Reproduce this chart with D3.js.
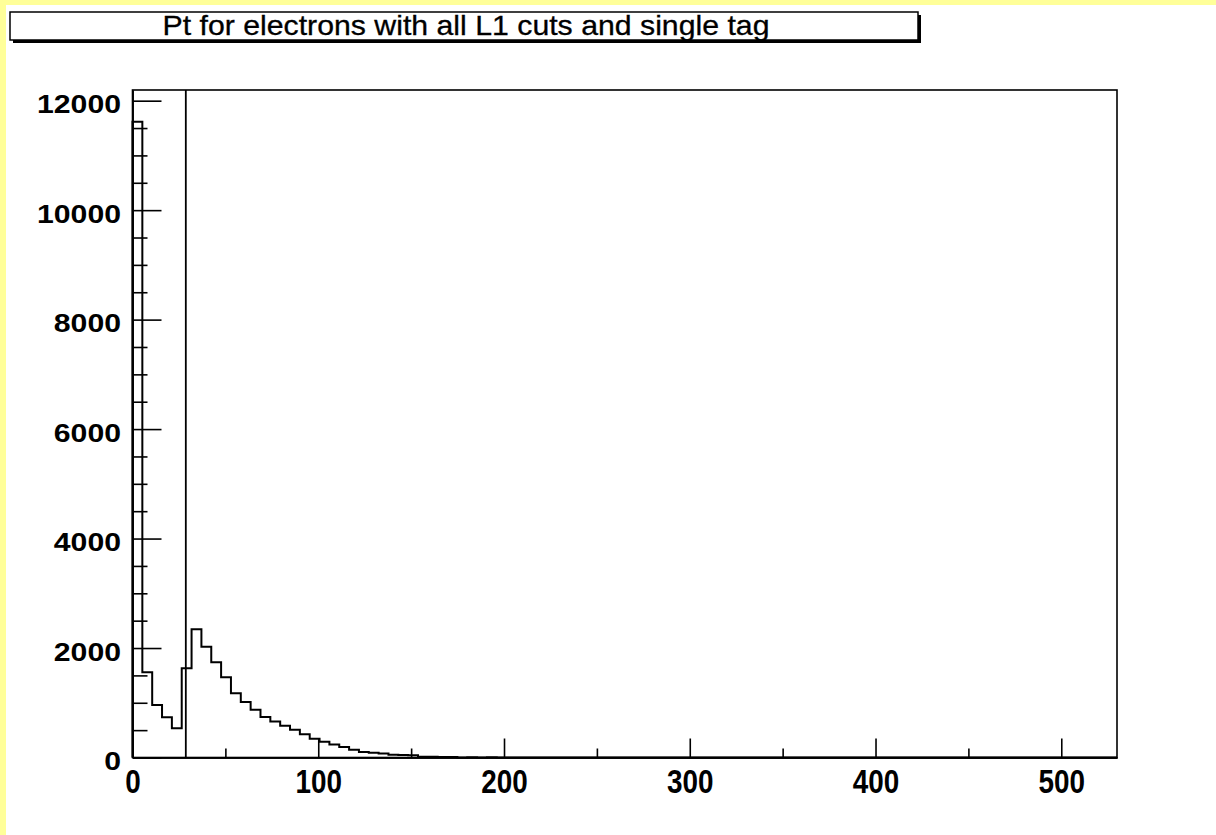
<!DOCTYPE html>
<html>
<head>
<meta charset="utf-8">
<script src="https://cdn.jsdelivr.net/npm/d3@7"></script>
<style>
  body { margin: 0; background: #ffffff; }
  svg { display: block; }
</style>
</head>
<body>
<svg id="chart" width="1216" height="835"></svg>
<script>
// Histogram: electron Pt, 100 bins over [0, 530]
const title = "Pt for electrons with all L1 cuts and single tag";
const xRange = [0, 530];
const binWidth = 5.3;
const counts = [
  11615, 1557, 959, 735, 534, 1630, 2343, 2025, 1740, 1466,
  1173, 1015, 872, 738, 660, 579, 506, 427, 342, 287,
  238, 190, 141, 99, 86, 75, 48, 45, 40, 15,
  12, 10, 8, 0, 6, 0, 5, 0, 0, 0,
  0, 0, 0, 0, 0, 0, 0, 0, 0, 0,
  0, 0, 0, 0, 0, 0, 0, 0, 0, 0,
  0, 0, 0, 0, 0, 0, 0, 0, 0, 0,
  0, 0, 0, 0, 0, 0, 0, 0, 0, 0,
  0, 0, 0, 0, 0, 0, 0, 0, 0, 0,
  0, 0, 0, 0, 0, 0, 0, 0, 0, 0
];
const cutValue = 28.7;
const yMax = 12195;

const xMajorTicks = [0, 100, 200, 300, 400, 500];
const xMinorTicks = [50, 150, 250, 350, 450];
const yMajorTicks = [0, 2000, 4000, 6000, 8000, 10000, 12000];
const yMinorTicks = [500, 1000, 1500, 2500, 3000, 3500, 4500, 5000, 5500,
                     6500, 7000, 7500, 8500, 9000, 9500, 10500, 11000, 11500];

// Frame geometry
const frame = { left: 132.5, right: 1117, top: 90, bottom: 757.5 };

const svg = d3.select("#chart");

// page background with the pale yellow edge strips
svg.append("rect").attr("x", 0).attr("y", 0).attr("width", 1216).attr("height", 835).attr("fill", "#ffffff");
svg.append("rect").attr("x", 0).attr("y", 0).attr("width", 1216).attr("height", 5).attr("fill", "#ffff99");
svg.append("rect").attr("x", 0).attr("y", 0).attr("width", 6).attr("height", 835).attr("fill", "#ffff99");

const x = d3.scaleLinear().domain(xRange).range([frame.left, frame.right]);
const y = d3.scaleLinear().domain([0, yMax]).range([frame.bottom, frame.top]);

// Title box with drop shadow
const tb = { x: 10, y: 12, w: 908, h: 28 };
svg.append("rect").attr("x", tb.x + 3).attr("y", tb.y + 3).attr("width", tb.w).attr("height", tb.h).attr("fill", "#000");
svg.append("rect").attr("x", tb.x).attr("y", tb.y).attr("width", tb.w).attr("height", tb.h)
  .attr("fill", "#fff").attr("stroke", "#000").attr("stroke-width", 1.5);
svg.append("text")
  .attr("x", 466).attr("y", 35)
  .attr("text-anchor", "middle")
  .attr("font-family", "'Liberation Sans Narrow', 'Liberation Sans', Arial, sans-serif")
  .attr("font-size", 28)
  .attr("textLength", 607)
  .attr("lengthAdjust", "spacingAndGlyphs")
  .attr("fill", "#000")
  .attr("stroke", "#000").attr("stroke-width", 0.3)
  .text(title);

// Plot frame
svg.append("rect")
  .attr("x", frame.left).attr("y", frame.top)
  .attr("width", frame.right - frame.left).attr("height", frame.bottom - frame.top)
  .attr("fill", "none").attr("stroke", "#000").attr("stroke-width", 1.6);

// X axis: major ticks with labels, minor ticks without
const gxMajor = svg.append("g").attr("transform", `translate(0,${frame.bottom})`)
  .call(d3.axisBottom(x).tickValues(xMajorTicks).tickSizeInner(-19).tickSizeOuter(0).tickFormat(d3.format("d")));
const gxMinor = svg.append("g").attr("transform", `translate(0,${frame.bottom})`)
  .call(d3.axisBottom(x).tickValues(xMinorTicks).tickSizeInner(-9).tickSizeOuter(0).tickFormat(""));

gxMajor.selectAll("text")
  .attr("y", 35).attr("dy", 0)
  .attr("font-family", "'Liberation Sans Narrow', 'Liberation Sans', Arial, sans-serif")
  .attr("font-weight", "bold")
  .attr("font-size", 34)
  .attr("textLength", d => String(d).length * 15.5)
  .attr("lengthAdjust", "spacingAndGlyphs")
  .attr("fill", "#000");

// Y axis
const gyMajor = svg.append("g").attr("transform", `translate(${frame.left},0)`)
  .call(d3.axisLeft(y).tickValues(yMajorTicks).tickSizeInner(-29).tickSizeOuter(0).tickFormat(d3.format("d")));
const gyMinor = svg.append("g").attr("transform", `translate(${frame.left},0)`)
  .call(d3.axisLeft(y).tickValues(yMinorTicks).tickSizeInner(-15).tickSizeOuter(0).tickFormat(""));

gyMajor.selectAll("text")
  .attr("x", -11.5).attr("dy", 0).attr("y", 12)
  .attr("text-anchor", "end")
  .attr("font-family", "'Liberation Sans', Arial, sans-serif")
  .attr("font-weight", "bold")
  .attr("font-size", 25)
  .attr("textLength", d => String(d).length * 16.8)
  .attr("lengthAdjust", "spacingAndGlyphs")
  .attr("fill", "#000");

svg.selectAll(".domain").attr("stroke", "#000").attr("stroke-width", 1.6);
svg.selectAll(".tick line").attr("stroke", "#000").attr("stroke-width", 1.6);

// Histogram outline as a step line
const pts = [[xRange[0], 0]]
  .concat(counts.map((c, i) => [i * binWidth, c]))
  .concat([[xRange[1], counts[counts.length - 1]], [xRange[1], 0]]);
const step = d3.line().x(d => x(d[0])).y(d => y(d[1])).curve(d3.curveStepAfter);
svg.append("path")
  .datum(pts)
  .attr("d", step)
  .attr("fill", "none")
  .attr("stroke", "#000")
  .attr("stroke-width", 2)
  .attr("stroke-linejoin", "miter");

// Cut line
svg.append("line")
  .attr("x1", x(cutValue)).attr("x2", x(cutValue))
  .attr("y1", y(yMax)).attr("y2", y(0))
  .attr("stroke", "#000").attr("stroke-width", 1.8);
</script>
</body>
</html>
